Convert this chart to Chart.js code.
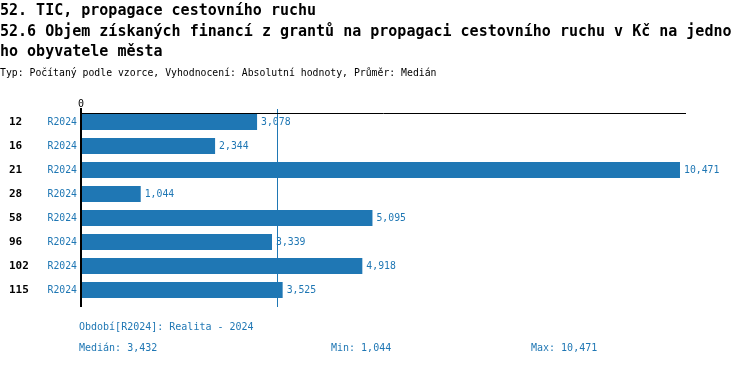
<!DOCTYPE html>
<html><head><meta charset="utf-8">
<script src="https://cdn.jsdelivr.net/npm/chart.js@4"></script>
<style>
body{margin:0;width:750px;height:366px;position:relative;overflow:hidden;background:#fff;font-family:'DejaVu Sans Mono',monospace}
.t{position:absolute;left:0;white-space:pre;color:#000}
.f{position:absolute;white-space:pre;color:#1f77b4;font-size:10px;line-height:14px}
</style></head><body>
<canvas id="c" width="750" height="366" style="position:absolute;left:0;top:0"></canvas>
<div class="t" style="top:0;font-size:15px;line-height:20px;font-weight:bold">52. TIC, propagace cestovního ruchu</div>
<div class="t" style="top:21px;font-size:15px;line-height:20px;font-weight:bold">52.6 Objem získaných financí z grantů na propagaci cestovního ruchu v Kč na jedno</div>
<div class="t" style="top:41px;font-size:15px;line-height:20px;font-weight:bold">ho obyvatele města</div>
<div class="t" style="top:66px;font-size:9.8px;line-height:14px">Typ: Počítaný podle vzorce, Vyhodnocení: Absolutní hodnoty, Průměr: Medián</div>
<div class="f" style="left:79px;top:320px">Období[R2024]: Realita - 2024</div>
<div class="f" style="left:79px;top:341px">Medián: 3,432</div>
<div class="f" style="left:331px;top:341px">Min: 1,044</div>
<div class="f" style="left:531px;top:341px">Max: 10,471</div>
<script>
const ids = ['12','16','21','28','58','96','102','115'];
const periods = ['R2024','R2024','R2024','R2024','R2024','R2024','R2024','R2024'];
const values = [3078,2344,10471,1044,5095,3339,4918,3525];
const medianValue = 3432;
const axisMax = 10576;
const blue = '#1f77b4';
const fmt = v => v.toLocaleString('en-US');

const axesPlugin = {
  id:'axesLines',
  beforeDatasetsDraw(chart){
    const {ctx, scales:{x}, chartArea:ca} = chart;
    ctx.save();
    const mx = Math.round(x.getPixelForValue(medianValue)) + 0.5;
    ctx.strokeStyle = blue; ctx.lineWidth = 1;
    ctx.beginPath(); ctx.moveTo(mx, ca.top - 1); ctx.lineTo(mx, ca.bottom + 5); ctx.stroke();
    ctx.restore();
  },
  afterDatasetsDraw(chart){
    const {ctx, chartArea:ca} = chart;
    ctx.save();
    ctx.strokeStyle = '#000'; ctx.lineWidth = 1;
    ctx.beginPath(); ctx.moveTo(ca.left, ca.top + 3.5); ctx.lineTo(ca.right, ca.top + 3.5); ctx.stroke();
    ctx.lineWidth = 2;
    ctx.beginPath(); ctx.moveTo(ca.left, ca.top - 2); ctx.lineTo(ca.left, ca.bottom + 5); ctx.stroke();
    ctx.restore();
  }
};
const labelPlugin = {
  id:'lbl',
  afterDatasetsDraw(chart){
    const {ctx, scales:{x,y}} = chart;
    ctx.save();
    ctx.textBaseline = 'middle';
    ids.forEach((id,i)=>{
      const py = y.getPixelForValue(i);
      ctx.font = 'bold 11px "DejaVu Sans Mono"'; ctx.fillStyle = '#000'; ctx.textAlign = 'left';
      ctx.fillText(id, 9, py);
      ctx.font = '9.8px "DejaVu Sans Mono"'; ctx.fillStyle = blue; ctx.textAlign = 'right';
      ctx.fillText(periods[i], 77, py);
      ctx.textAlign = 'left';
      ctx.fillText(fmt(values[i]), x.getPixelForValue(values[i]) + 4, py);
    });
    ctx.restore();
  }
};

new Chart(document.getElementById('c'), {
  type:'bar',
  data:{ labels: ids, datasets:[{ data: values, backgroundColor: blue, borderWidth:0, categoryPercentage:1, barPercentage:0.667 }] },
  options:{
    indexAxis:'y', responsive:false, animation:false,
    layout:{ padding:{ top:0, left:0, right:64, bottom:64 } },
    plugins:{ legend:{display:false}, tooltip:{enabled:false} },
    scales:{
      x:{ position:'top', min:0, max:axisMax,
          afterBuildTicks: s => { s.ticks = [{value:0}]; },
          afterFit: s => { s.height = 110; },
          grid:{ display:false, drawTicks:false, tickLength:0 },
          border:{ display:false },
          ticks:{ color:'#000', font:{ family:'DejaVu Sans Mono', size:10 }, padding:0, maxRotation:0 } },
      y:{ afterFit: s => { s.width = 81; },
          grid:{ display:false, drawTicks:false },
          border:{ display:false },
          ticks:{ display:false } }
    }
  },
  plugins:[axesPlugin, labelPlugin]
});
</script>
</body></html>
